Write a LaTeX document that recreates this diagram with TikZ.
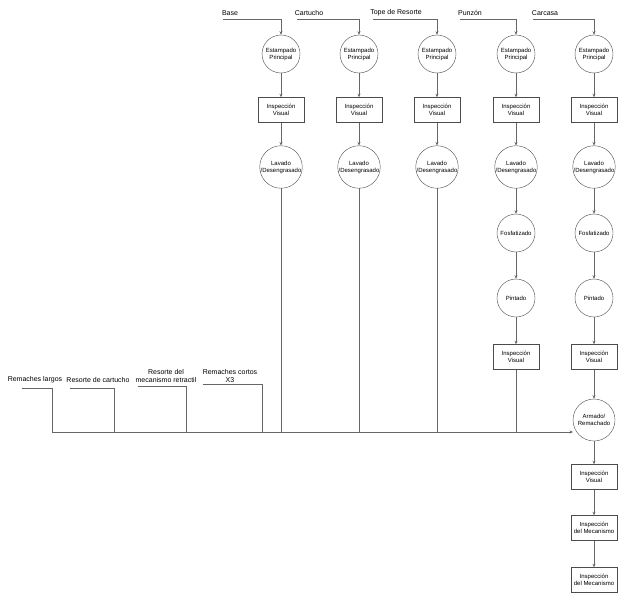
\documentclass[tikz,border=0pt]{standalone}
\usepackage{fontspec}
\setmainfont{Liberation Sans}
\usetikzlibrary{arrows.meta}
\begin{document}
\begin{tikzpicture}[x=1pt,y=-1pt,
  every node/.style={font=\fontsize{6}{7}\selectfont,align=center},
  circ/.style={circle,draw=black!70,minimum size=38pt,inner sep=0pt},
  big/.style={circle,draw=black!70,minimum size=42pt,inner sep=0pt},
  box/.style={rectangle,draw=black!70,minimum width=46pt,minimum height=25pt,inner sep=0pt},
  lab/.style={font=\fontsize{7}{8}\selectfont},
  ln/.style={draw=black!60,line width=0.6pt},
  ar/.style={ln,-{Stealth[length=3.5pt,width=3pt]}}]
\useasboundingbox (0,0) rectangle (623,599);
\foreach \n/\x/\t/\lx/\ls in {a/281/Base/230/223,b/359/Cartucho/309/297,c/437/Tope de Resorte/396/373,d/516/Punzón/470/460,e/594/Carcasa/545/533}{
  \node[lab] (t\n) at (\lx,13) {\t};
  \coordinate (s\n) at (\ls,19);
  \node[circ] (e\n) at (\x,54) {Estampado\\Principal};
  \node[box] (i\n) at (\x,110) {Inspección\\Visual};
  \node[circ] (l\n) at (\x,167) {Lavado\\/Desengrasado};
  \draw[ar] (s\n) -| (e\n);
  \draw[ar] (e\n) -- (i\n);
  \draw[ar] (i\n) -- (l\n);
}
\foreach \n/\x in {d/516,e/594}{
  \node[circ] (f\n) at (\x,233) {Fosfatizado};
  \node[circ] (p\n) at (\x,298) {Pintado};
  \node[box] (v\n) at (\x,357) {Inspección\\Visual};
  \draw[ar] (l\n) -- (f\n);
  \draw[ar] (f\n) -- (p\n);
  \draw[ar] (p\n) -- (v\n);
}
\node[big] (arm) at (594,420) {Armado/\\Remachado};
\draw[ar] (ve) -- (arm);
\node[box] (f1) at (594,477) {Inspección\\Visual};
\node[box] (f2) at (594,528) {Inspección\\del Mecanismo};
\node[box] (f3) at (594,580) {Inspección\\del Mecanismo};
\draw[ar] (arm) -- (f1);
\draw[ar] (f1) -- (f2);
\draw[ar] (f2) -- (f3);
\coordinate (j) at (52,432);
\coordinate (aj) at (573,432);
\draw[ar] (j) -- (aj);
\foreach \n/\x in {la/281,lb/359,lc/437,vd/516}{
  \coordinate (k\n) at (\x,432);
  \draw[ln] (\n) -- (k\n);
}
\node[lab] (r1) at (35,380) {Remaches largos};
\node[lab] (r2) at (98,380) {Resorte de cartucho};
\node[lab] (r3) at (166,376) {Resorte del\\mecanismo retractil};
\node[lab] (r4) at (230,376) {Remaches cortos\\X3};
\foreach \n/\a/\b/\y in {1/22/52/388,2/70/114/388,3/138/186/386,4/203/262/384}{
  \coordinate (u\n) at (\a,\y);
  \coordinate (w\n) at (\b,432);
  \draw[ln] (u\n) -| (w\n);
}
\end{tikzpicture}
\end{document}
